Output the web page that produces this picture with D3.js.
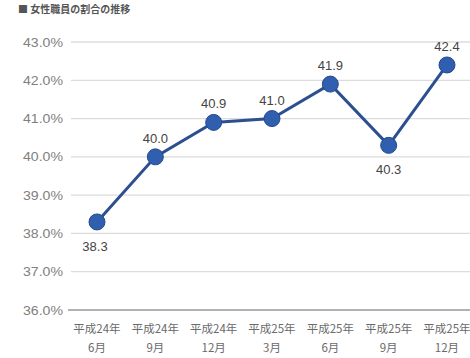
<!DOCTYPE html>
<html><head><meta charset="utf-8">
<script src="https://cdn.jsdelivr.net/npm/d3@7"></script>
<style>
html,body{margin:0;padding:0;background:#fff;}
svg{display:block;}
</style></head>
<body><svg id="c" width="470" height="358"></svg>
<script>
const titleText = "■ 女性職員の割合の推移";
const categories = ["平成24年|6月","平成24年|9月","平成24年|12月","平成25年|3月","平成25年|6月","平成25年|9月","平成25年|12月"];
const values = [38.3, 40.0, 40.9, 41.0, 41.9, 40.3, 42.4];
const labelPos = ["below","above","above","above","above","below","above"];
const yTicks = [36,37,38,39,40,41,42,43];

const svg = d3.select("#c");
const W = 470, H = 358;
const x = d3.scalePoint().domain(categories).range([97, 447]);
const y = d3.scaleLinear().domain([36, 43]).range([310, 42]);

const font = "'Liberation Sans Narrow','Liberation Sans',Arial,sans-serif";
const jp = "'Noto Sans CJK JP',sans-serif";

svg.append("text").attr("x", 18).attr("y", 13).attr("font-family", jp)
  .attr("font-size", 10).attr("font-weight", "bold").attr("fill", "#555").text(titleText);

// grid
svg.append("g").selectAll("line").data(yTicks.filter(d => d > 36)).join("line")
  .attr("x1", 71).attr("x2", W).attr("y1", d => y(d)).attr("y2", d => y(d))
  .attr("stroke", "#dcdcdc").attr("stroke-width", 1.3);

// y axis labels via axis
const yAxis = d3.axisLeft(y).tickValues(yTicks).tickSize(0).tickPadding(0)
  .tickFormat(d => d3.format(".1f")(d) + "%");
const gy = svg.append("g").attr("transform", "translate(63,0)").call(yAxis);
gy.select(".domain").remove();
gy.selectAll("text").attr("font-family", font).attr("font-size", 12.5).attr("fill", "#808080")
  .attr("textLength", 40).attr("lengthAdjust", "spacingAndGlyphs");

// x axis
const xAxis = d3.axisBottom(x).tickSize(0).tickFormat("");
const gx = svg.append("g").attr("transform", `translate(0,${y(36)})`).call(xAxis);
gx.select(".domain").remove();
svg.append("line").attr("x1", 68).attr("x2", W).attr("y1", y(36)).attr("y2", y(36))
  .attr("stroke", "#999").attr("stroke-width", 1.5);
const xl = svg.append("g").selectAll("text").data(categories).join("text")
  .attr("x", d => x(d)).attr("text-anchor", "middle").attr("font-family", jp)
  .attr("font-size", 11.5).attr("fill", "#6a6a6a");
xl.append("tspan").attr("x", d => x(d)).attr("y", 333).text(d => d.split("|")[0]);
xl.append("tspan").attr("x", d => x(d)).attr("y", 352).text(d => d.split("|")[1]);

// line
const pts = categories.map((c, i) => ({c, v: values[i], p: labelPos[i]}));
svg.append("path").datum(pts)
  .attr("d", d3.line().x(d => x(d.c)).y(d => y(d.v)))
  .attr("fill", "none").attr("stroke", "#2c4f8f").attr("stroke-width", 3);
svg.append("g").selectAll("circle").data(pts).join("circle")
  .attr("cx", d => x(d.c)).attr("cy", d => y(d.v)).attr("r", 8)
  .attr("fill", "#2f5fae").attr("stroke", "#234a8c").attr("stroke-width", 1);
svg.append("g").selectAll("text").data(pts).join("text")
  .attr("x", d => x(d.c) - (d.p === "below" && d.c === categories[0] ? 2 : 0))
  .attr("y", d => d.p === "above" ? y(d.v) - 14 : y(d.v) + 29)
  .attr("text-anchor", "middle").attr("font-family", font).attr("font-size", 13)
  .attr("fill", "#444").text(d => d3.format(".1f")(d.v));
</script></body></html>
